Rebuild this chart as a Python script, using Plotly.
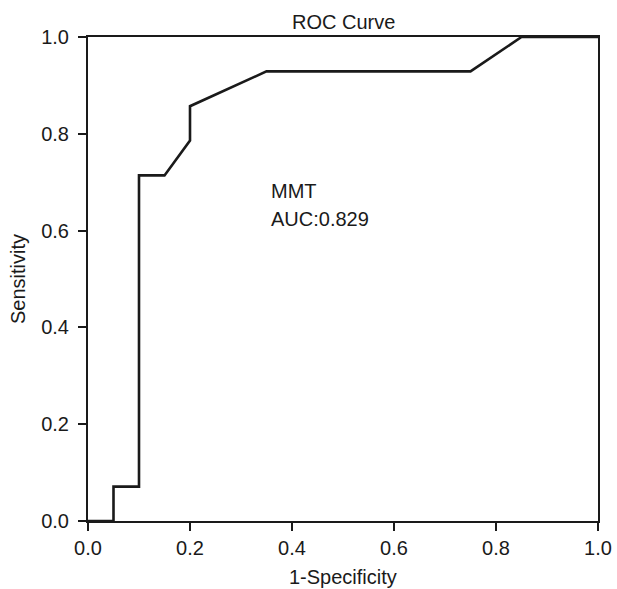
import plotly.graph_objects as go

# ROC points (1-Specificity, Sensitivity)
fpr = [0.0, 0.05, 0.05, 0.10, 0.10, 0.15, 0.20, 0.20, 0.35, 0.75, 0.85, 1.0]
tpr = [0.0, 0.0, 0.071, 0.071, 0.714, 0.714, 0.786, 0.857, 0.929, 0.929, 1.0, 1.0]

tick_vals = [0.0, 0.2, 0.4, 0.6, 0.8, 1.0]
tick_text = ['0.0', '0.2', '0.4', '0.6', '0.8', '1.0']

FONT = 'Liberation Sans, Arial, sans-serif'
NEGRO = '#1a1a1a'
TAM = 20

fig = go.Figure()
fig.add_trace(go.Scatter(
    x=fpr, y=tpr,
    mode='lines',
    line=dict(color=NEGRO, width=2.6),
    showlegend=False,
))

# texto AUC en dos líneas separadas (interlineado del original)
for texto, yy in [('MMT', 0.708), ('AUC:0.829', 0.650)]:
    fig.add_annotation(
        x=0.355, y=yy, xref='x', yref='y',
        text=texto,
        showarrow=False, xanchor='left', yanchor='top', align='left',
        font=dict(family=FONT, size=TAM, color=NEGRO),
    )

# títulos de ejes como anotaciones para fijar su posición
fig.add_annotation(
    x=0.5, y=0, xref='paper', yref='paper', yshift=-56,
    text='1-Specificity', showarrow=False, xanchor='center', yanchor='middle',
    font=dict(family=FONT, size=TAM, color=NEGRO),
)
fig.add_annotation(
    x=0, y=0.5, xref='paper', yref='paper', xshift=-70, textangle=-90,
    text='Sensitivity', showarrow=False, xanchor='center', yanchor='middle',
    font=dict(family=FONT, size=TAM, color=NEGRO),
)
fig.add_annotation(
    x=0.5, y=1, xref='paper', yref='paper', yshift=15,
    text='ROC Curve', showarrow=False, xanchor='center', yanchor='middle',
    font=dict(family=FONT, size=TAM, color=NEGRO),
)

eje = dict(
    range=[0, 1],
    tickvals=tick_vals,
    ticktext=tick_text,
    ticks='outside',
    ticklen=8,
    tickwidth=2,
    tickcolor=NEGRO,
    showline=True,
    linecolor=NEGRO,
    linewidth=2,
    mirror=True,
    showgrid=False,
    zeroline=False,
    automargin=False,
    ticklabeloverflow='allow',
    tickfont=dict(family=FONT, size=TAM, color=NEGRO),
)

fig.update_layout(
    width=617, height=589,
    paper_bgcolor='white', plot_bgcolor='white',
    margin=dict(l=88, r=19, t=37, b=68),
    xaxis=eje,
    yaxis=dict(eje, ticklabelstandoff=5),
)

# página sin margen ni barras de desplazamiento, sin barra de herramientas
fig.write_html(
    'out.html',
    config={'displayModeBar': False},
    post_script=(
        "document.body.style.margin='0';"
        "document.documentElement.style.overflow='hidden';"
    ),
)
